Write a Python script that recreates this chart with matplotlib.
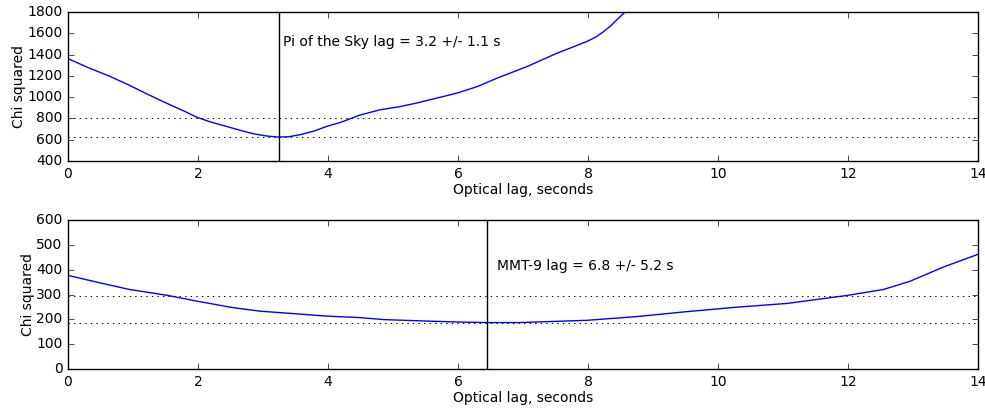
import matplotlib
matplotlib.use("Agg")
import matplotlib.pyplot as plt

plt.style.use('classic')
plt.rcParams['font.family'] = ['DejaVu Sans']
plt.rcParams['font.size'] = 10

# Top panel: Pi of the Sky
pots_lag = [0.0, 0.3, 0.65, 0.95, 1.21, 1.57, 1.8, 1.98, 2.2, 2.44, 2.65, 2.85, 3.05, 3.24,
            3.4, 3.57, 3.78, 3.98, 4.19, 4.49, 4.8, 5.1, 5.36, 5.98, 6.3, 6.6, 7.06,
            7.52, 7.98, 8.12, 8.24, 8.34, 8.44, 8.57, 8.7, 8.85]
pots_chi = [1362, 1280, 1194, 1110, 1031, 928, 865, 812, 765, 725, 688, 656, 635, 625,
            628, 647, 680, 725, 762, 831, 881, 910, 944, 1037, 1100, 1178, 1287,
            1412, 1522, 1565, 1616, 1665, 1725, 1800, 1880, 1990]
pots_best = 3.246
pots_levels = [625, 800]
pots_text = "Pi of the Sky lag = 3.2 +/- 1.1 s"
pots_text_pos = (3.31, 1520)

# Bottom panel: MMT-9
mmt_lag = [0.0, 0.49, 0.95, 1.52, 2.03, 2.54, 2.95, 3.47, 3.98, 4.49, 4.85, 5.52,
           6.03, 6.44, 6.95, 7.98, 8.75, 9.52, 10.29, 11.06, 11.98, 12.54, 12.95, 13.47, 14.0]
mmt_chi = [377, 347, 320, 297, 271, 247, 233, 223, 213, 207, 199, 193,
           189, 187, 187, 196, 211, 231, 249, 264, 296, 320, 353, 411, 462]
mmt_best = 6.45
mmt_levels = [187, 295]
mmt_text = "MMT-9 lag = 6.8 +/- 5.2 s"
mmt_text_pos = (6.60, 415)

fig = plt.figure(figsize=(9.85, 4.09), dpi=100, facecolor='white')
ax1 = fig.add_axes([0.069, 0.6064, 0.924, 0.3643])
ax2 = fig.add_axes([0.069, 0.0978, 0.924, 0.3643])

for ax, lag, chi, best, levels, txt, tpos, ylim, yticks in [
        (ax1, pots_lag, pots_chi, pots_best, pots_levels, pots_text, pots_text_pos,
         (400, 1800), range(400, 1801, 200)),
        (ax2, mmt_lag, mmt_chi, mmt_best, mmt_levels, mmt_text, mmt_text_pos,
         (0, 600), range(0, 601, 100))]:
    ax.plot(lag, chi, color='b', lw=1)
    ax.axvline(best, color='k', lw=1)
    for lv in levels:
        ax.axhline(lv, color='k', ls=':', lw=0.7)
    ax.text(tpos[0], tpos[1], txt, va='center', ha='left', fontsize=10)
    ax.set_xlim(0, 14)
    ax.set_ylim(*ylim)
    ax.set_yticks(list(yticks))
    ax.set_xticks(range(0, 15, 2))
    ax.set_xlabel("Optical lag, seconds", fontsize=10, labelpad=2)
    ax.set_ylabel("Chi squared", fontsize=10, labelpad=1)
    ax.tick_params(labelsize=10, direction='in', top=True, right=True)

fig.savefig("out.png", dpi=100, facecolor='white')
